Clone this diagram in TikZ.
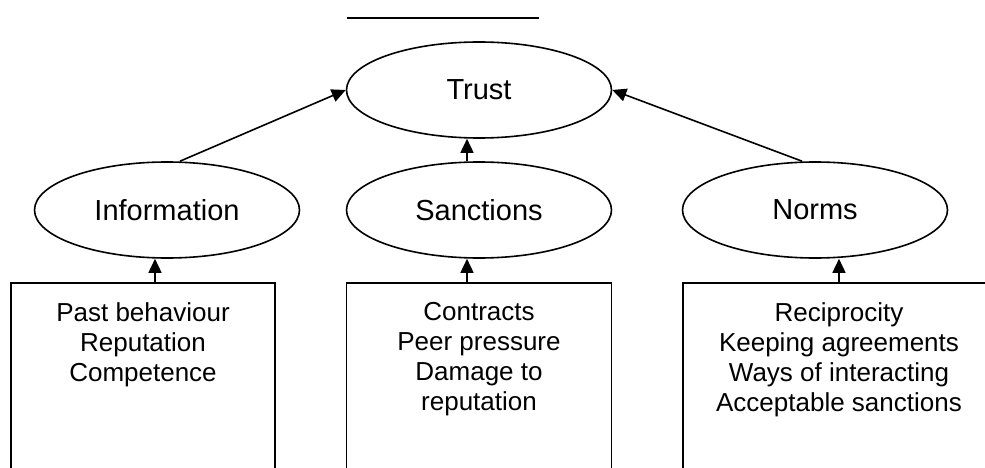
\documentclass[tikz,border=0pt]{standalone}
\usepackage{fontspec}
\setmainfont{Liberation Sans}
\usetikzlibrary{shapes.geometric,arrows.meta}

\begin{document}
\begin{tikzpicture}[x=1pt, y=-1pt,
every edge/.style = {draw=black, line width=1.6pt,
      -{Triangle[length=14pt,width=13pt]}},
 factor/.style = {%
      ellipse, draw, line width=1.6pt, fill=white,
      minimum width=265pt, minimum height=96pt, inner sep=0pt,
      font=\fontsize{29}{34}\selectfont},
 source/.style args = {#1/#2}{%
      rectangle, draw, line width=1.6pt, anchor=north,
      minimum width=#1, minimum height=250pt,
      label={[anchor=north, yshift=-17pt, align=center,
              font=\fontsize{26}{30}\selectfont]north:{#2}}}
                    ]
\useasboundingbox (0,0) rectangle (985,468);
\clip (0,0) rectangle (985,468);
%
\node(trust) [factor] at (479, 90) {Trust};
\node(info)  [factor] at (167,210) {Information};
\node(sanc)  [factor] at (479,210) {Sanctions};
\node(norms) [factor] at (815,210) {Norms};
\node(infoBox)  [source=264pt/{Past behaviour\\Reputation\\Competence}] at (143,282) {};
\node(sancBox)  [source=265pt/{Contracts\\Peer pressure\\Damage to\\reputation}] at (479,282) {};
\node(normsBox) [source=312pt/{Reciprocity\\Keeping agreements\\Ways of interacting\\Acceptable sanctions}] at (839,282) {};
\coordinate (barL) at (347,18);
\coordinate (barR) at (539,18);
%
\draw[line width=1.8pt] (barL) -- (barR);
\path   ([xshift=13pt]info.north)   edge (trust.west);
\path   ([xshift=-12pt]sanc.north)  edge ([xshift=-12pt]trust.south);
\path   ([xshift=-13pt]norms.north) edge (trust.east);
\path   ([xshift=12pt]infoBox.north) edge ([xshift=-12pt]info.south);
\path   ([xshift=-12pt]sancBox.north) edge ([xshift=-12pt]sanc.south);
\path   (normsBox.north) edge (normsBox.north |- norms.south);
\end{tikzpicture}
\end{document}
